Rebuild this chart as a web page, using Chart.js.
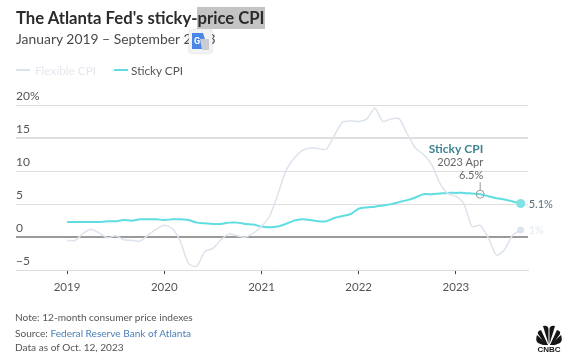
<!DOCTYPE html>
<html>
<head>
<meta charset="utf-8">
<script src="https://cdn.jsdelivr.net/npm/chart.js@4"></script>
<style>
  html, body { margin: 0; padding: 0; background: #fff; }
  body { width: 580px; height: 362px; position: relative; overflow: hidden; font-family: Lato, sans-serif; }
  #wrap { position: absolute; left: 0; top: 0; width: 580px; height: 362px; }
  .txt { position: absolute; white-space: nowrap; }
  #title { left: 16px; top: 8px; font-size: 16.7px; font-weight: 700; color: #2b2b2b; }
  #title span { background: #c4c4c4; padding: 1px 0; }
  #sub { left: 16px; top: 30px; font-size: 13.9px; color: #4a4a4a; }
  #leg1 { left: 35px; top: 63px; font-size: 11.8px; color: #e4e8ee; }
  #leg2 { left: 131px; top: 63px; font-size: 11.8px; color: #555; }
  .swatch { position: absolute; top: 69px; height: 2px; width: 14px; }
  .foot { left: 15px; font-size: 10.1px; color: #555; }
  .foot a { color: #4a7fb8; text-decoration: none; }
  #gt { position: absolute; left: 189px; top: 30px; width: 23px; height: 23px; background: #f1f3f5; border-radius: 3px; box-shadow: 0 0 2px #bbb; }
  #logo { position: absolute; left: 535px; top: 324px; }
</style>
</head>
<body>
<div id="wrap"><canvas id="myChart" width="580" height="362"></canvas></div>
<div class="txt" id="title">The Atlanta Fed's sticky-<span>price CPI</span></div>
<div class="txt" id="sub">January 2019 – September 2023</div>
<div class="swatch" style="left:16px;background:#dde3ec"></div>
<div class="txt" id="leg1">Flexible CPI</div>
<div class="swatch" style="left:114px;background:#5fdde0"></div>
<div class="txt" id="leg2">Sticky CPI</div>
<div class="txt foot" style="top:311px">Note: 12-month consumer price indexes</div>
<div class="txt foot" style="top:327px">Source: <a>Federal Reserve Bank of Atlanta</a></div>
<div class="txt foot" style="top:341px">Data as of Oct. 12, 2023</div>
<div id="gt">
  <svg width="23" height="23" viewBox="0 0 23 23">
    <path d="M3 3h11l5 16H3z" fill="#4a86e8"/>
    <path d="M11 9h9v11h-7z" fill="#c9ccd1"/>
    <text x="5" y="14" font-size="9" font-weight="700" fill="#fff" font-family="Roboto">G</text>
  </svg>
</div>
<svg id="logo" width="28" height="31" viewBox="0 0 28 31">
  <g fill="#151515">
    <path d="M13 21 L2 11 Q0 16 3 19 L8 21z"/>
    <path d="M13 21 L6 6 Q2 7 3 10 L11 21z"/>
    <path d="M13.5 20 L8 2 Q13 1 13.5 5z"/>
    <path d="M14.5 20 L20 2 Q15 1 14.5 5z"/>
    <path d="M15 21 L22 6 Q26 7 25 10 L17 21z"/>
    <path d="M15 21 L26 11 Q28 16 25 19 L20 21z"/>
  </g>
  <text x="14" y="28" font-size="8" font-weight="700" text-anchor="middle" fill="#151515" font-family="Liberation Sans">CNBC</text>
</svg>
<script>
const yearLabels = ['2019', '2020', '2021', '2022', '2023']
const yearMonths = [0, 12, 24, 36, 48]
const yTicks = [-5, 0, 5, 10, 15, 20]

// one value per month, Jan 2019 - Sep 2023
const flexible = [
  -0.5, -0.5, 0.6, 1.2, 0.6, -0.1, 0.2, -0.4, -0.5, -0.6, 0.3, 1.2,
  1.8, 1.3, -0.7, -4.0, -4.4, -2.2, -1.7, -0.4, 0.5, 0.2, 0.0, 0.6,
  1.6, 3.2, 6.4, 10.0, 11.9, 13.1, 13.5, 13.4, 13.3, 15.4, 17.4, 17.6,
  17.5, 17.9, 19.5, 17.5, 17.9, 17.9, 15.6, 13.5, 12.5, 11.0, 8.2, 6.6,
  6.2, 5.0, 1.6, 1.8, -0.1, -2.7, -1.9, 0.3, 1.1
]
const sticky = [
  2.3, 2.3, 2.3, 2.3, 2.3, 2.4, 2.4, 2.6, 2.5, 2.7, 2.7, 2.7,
  2.6, 2.7, 2.7, 2.6, 2.2, 2.1, 2.0, 2.0, 2.2, 2.2, 2.0, 1.9,
  1.6, 1.5, 1.6, 2.0, 2.5, 2.7, 2.6, 2.4, 2.4, 2.9, 3.2, 3.5,
  4.3, 4.5, 4.6, 4.8, 5.0, 5.3, 5.6, 6.0, 6.5, 6.5, 6.6, 6.7,
  6.7, 6.7, 6.6, 6.5, 6.2, 5.9, 5.7, 5.4, 5.1
]
const months = sticky.map((v, i) => i)
const calloutMonth = 51
const lastMonth = 56

const toPoints = arr => arr.map((v, i) => ({ x: months[i], y: v }))

// text next to the line ends and the Apr 2023 callout
const labelsPlugin = {
  id: 'labels',
  afterDatasetsDraw(chart) {
    const c = chart.ctx, xs = chart.scales.x, ys = chart.scales.y
    const cx = xs.getPixelForValue(calloutMonth), cy = ys.getPixelForValue(sticky[calloutMonth])
    const ex = xs.getPixelForValue(lastMonth)
    c.save()
    c.strokeStyle = '#9a9a9a'
    c.lineWidth = 1
    c.beginPath(); c.arc(cx, cy, 4, 0, Math.PI * 2); c.stroke()
    c.beginPath(); c.moveTo(cx, cy - 4); c.lineTo(cx, cy - 12); c.stroke()
    c.textBaseline = 'middle'
    c.textAlign = 'right'
    c.font = '700 12px Lato'
    c.fillStyle = '#3d8493'
    c.fillText('Sticky CPI', cx + 3, 149)
    c.font = '11px Lato'
    c.fillStyle = '#666'
    c.fillText('2023 Apr', cx + 3, 162)
    c.fillText('6.5%', cx + 3, 175)
    c.textAlign = 'left'
    c.fillStyle = '#5a6a75'
    c.fillText('5.1%', ex + 8, ys.getPixelForValue(sticky[lastMonth]) + 1)
    c.fillStyle = '#e4e8ee'
    c.fillText('1%', ex + 8, ys.getPixelForValue(flexible[lastMonth]) + 1)
    c.restore()
  }
}

const ctx = document.getElementById('myChart')

const myChart = new Chart(ctx, {
  type: 'line',
  data: {
    datasets: [
      {
        label: 'Flexible CPI',
        data: toPoints(flexible),
        borderColor: '#dde3ec',
        borderWidth: 1.5,
        tension: 0.25,
        pointRadius: ctx => ctx.dataIndex === lastMonth ? 3.5 : 0,
        pointBackgroundColor: '#dde3ec',
        pointBorderWidth: 0
      },
      {
        label: 'Sticky CPI',
        data: toPoints(sticky),
        borderColor: '#5fdde0',
        borderWidth: 2,
        tension: 0.25,
        pointRadius: ctx => ctx.dataIndex === lastMonth ? 4.5 : 0,
        pointBackgroundColor: '#7fe3e6',
        pointBorderWidth: 0
      }
    ]
  },
  plugins: [labelsPlugin],
  options: {
    responsive: false,
    animation: false,
    layout: { padding: { left: 16, right: 52, top: 105, bottom: 62 } },
    plugins: { legend: { display: false }, tooltip: { enabled: false } },
    scales: {
      x: {
        type: 'linear',
        min: -6.3,
        max: 56.9,
        afterBuildTicks: axis => { axis.ticks = yearMonths.map(v => ({ value: v })) },
        grid: { drawOnChartArea: false, drawTicks: true, tickLength: 4, color: '#444', tickWidth: 1 },
        border: { color: '#dcdcdc' },
        ticks: {
          padding: 6,
          autoSkip: false,
          maxRotation: 0,
          color: '#555',
          font: { family: 'Lato', size: 11.5 },
          callback: v => yearLabels[yearMonths.indexOf(v)]
        }
      },
      y: {
        min: -5,
        max: 20,
        afterBuildTicks: axis => { axis.ticks = yTicks.map(v => ({ value: v })) },
        grid: {
          drawTicks: false,
          color: c => c.tick.value === 0 ? '#9a9a9a' : '#dedede',
          lineWidth: c => c.tick.value === 0 ? 2 : (c.tick.value === 15 ? 2 : 1)
        },
        border: { display: false },
        ticks: {
          mirror: true,
          padding: 0,
          labelOffset: -9,
          color: '#555',
          font: { family: 'Lato', size: 12 },
          callback: v => v === 20 ? '20%' : (v < 0 ? '−' + Math.abs(v) : String(v))
        }
      }
    }
  }
})
</script>
</body>
</html>
